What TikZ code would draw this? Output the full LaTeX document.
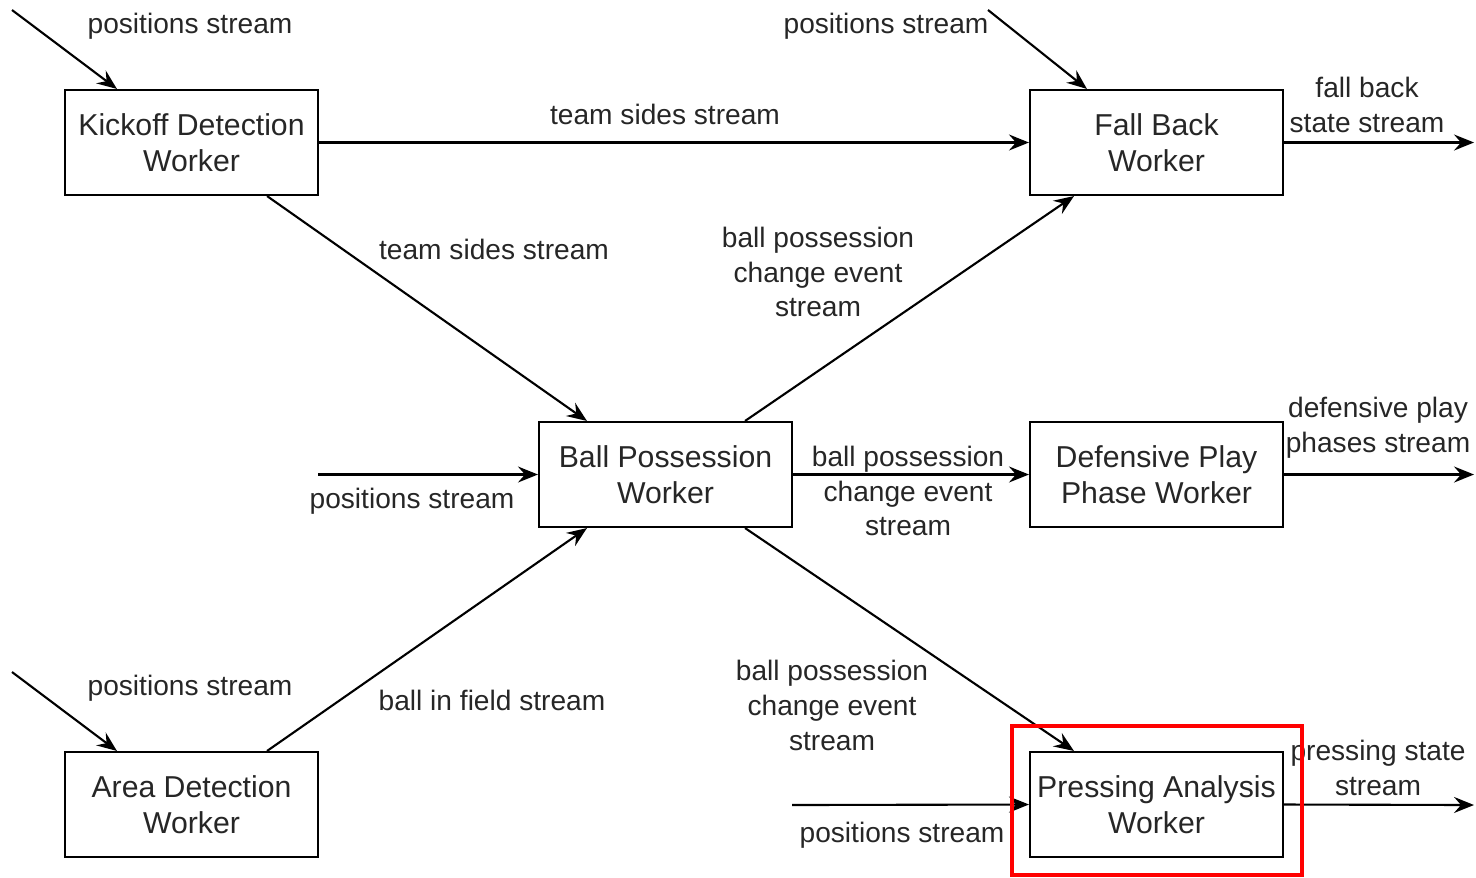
\documentclass[tikz,border=0pt]{standalone}
\usepackage{fontspec}
\setmainfont{Liberation Sans}
\usepackage{tikz}
\usetikzlibrary{positioning,arrows.meta}

\begin{document}
\begin{tikzpicture}[
worker/.style={draw,line width=0.6pt,minimum width=2.53cm,minimum height=1.05cm,inner sep=0pt,
  align=center,font=\fontsize{8.6}{10.2}\selectfont,text=black!85},
lbl/.style={align=center,inner sep=0pt,font=\fontsize{8}{9.9}\selectfont,text=black!85},
flow/.style={draw,line width=0.6pt,-{Stealth[length=2mm,width=1.6mm,inset=0.7mm]}},
highlight/.style={draw=red,line width=1.4pt}]
\useasboundingbox (0,0) rectangle (14.76,-8.77);

% workers
\node[worker] (kickoff) at (1.915,-1.425) {Kickoff Detection\\Worker};
\node[worker] (fallback) at (11.565,-1.425) {Fall Back\\Worker};
\node[worker] (ballposs) at (6.655,-4.745) {Ball Possession\\Worker};
\node[worker] (defplay) at (11.565,-4.745) {Defensive Play\\Phase Worker};
\node[worker] (area) at (1.915,-8.045) {Area Detection\\Worker};
\node[worker] (pressing) at (11.565,-8.045) {Pressing Analysis\\Worker};

% free ends
\coordinate (kin) at (0.12,-0.10);
\coordinate (fin) at (9.88,-0.10);
\coordinate (fout) at (14.74,-1.425);
\coordinate (pin) at (3.18,-4.745);
\coordinate (dout) at (14.74,-4.745);
\coordinate (ain) at (0.12,-6.72);
\coordinate (prin) at (7.92,-8.05);
\coordinate (prout) at (14.74,-8.05);

% streams
\draw[flow] (kin) -- ([xshift=5.3mm]kickoff.north west);
\draw[flow] (fin) -- ([xshift=5.8mm]fallback.north west);
\draw[flow] (kickoff.east) -- (fallback.west);
\draw[flow] (fallback.east) -- (fout);
\draw[flow] ([xshift=-5.2mm]kickoff.south east) -- ([xshift=4.9mm]ballposs.north west);
\draw[flow] ([xshift=-4.8mm]ballposs.north east) -- ([xshift=4.5mm]fallback.south west);
\draw[flow] (pin) -- (ballposs.west);
\draw[flow] (ballposs.east) -- (defplay.west);
\draw[flow] (defplay.east) -- (dout);
\draw[flow] (ain) -- ([xshift=5.3mm]area.north west);
\draw[flow] ([xshift=-5.2mm]area.north east) -- ([xshift=4.9mm]ballposs.south west);
\draw[flow] ([xshift=-4.8mm]ballposs.south east) -- ([xshift=4.5mm]pressing.north west);
\draw[flow] (prin) -- (pressing.west);
\draw[flow] (pressing.east) -- (prout);

% labels
\node[lbl] (lkin) at (1.90,-0.26) {positions stream};
\node[lbl] (lfin) at (8.86,-0.26) {positions stream};
\node[lbl] (lteam1) at (6.65,-1.14) {team sides stream};
\node[lbl] (lfout) at (13.67,-1.05) {fall back\\state stream};
\node[lbl] (lteam2) at (4.94,-2.49) {team sides stream};
\node[lbl] (lbpc1) at (8.18,-2.72) {ball possession\\change event\\stream};
\node[lbl] (lpin) at (4.12,-5.01) {positions stream};
\node[lbl] (lbpc2) at (9.08,-4.91) {ball possession\\change event\\stream};
\node[lbl] (ldout) at (13.78,-4.28) {defensive play\\phases stream};
\node[lbl] (lain) at (1.90,-6.88) {positions stream};
\node[lbl] (lball) at (4.92,-7.00) {ball in field stream};
\node[lbl] (lbpc3) at (8.32,-7.055) {ball possession\\change event\\stream};
\node[lbl] (lprin) at (9.02,-8.35) {positions stream};
\node[lbl] (lprout) at (13.78,-7.68) {pressing state\\stream};

% highlight
\draw[highlight] (10.12,-7.26) rectangle (13.02,-8.75);
\end{tikzpicture}
\end{document}
